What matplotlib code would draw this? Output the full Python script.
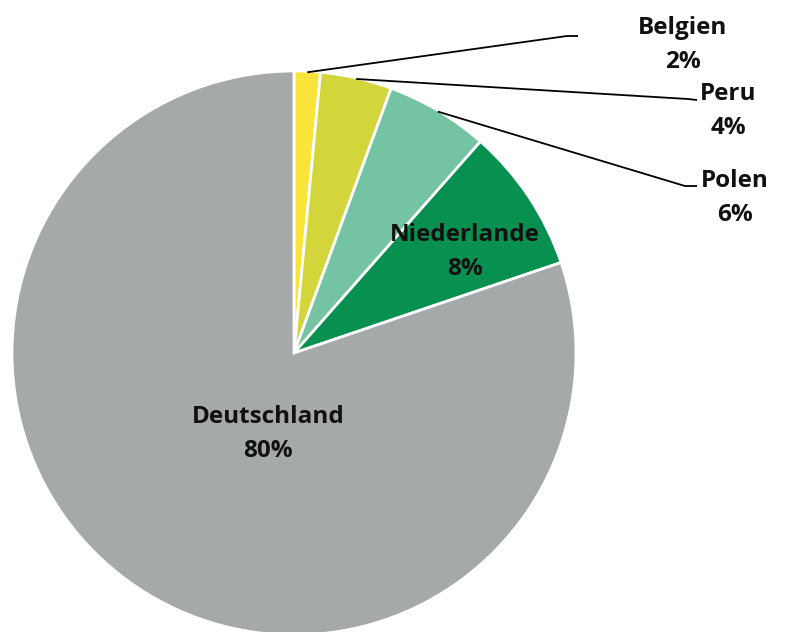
import numpy as np
from matplotlib import pyplot as plt

countries = ["Belgien", "Peru", "Polen", "Niederlande", "Deutschland"]
shares = [1.5, 4.1, 5.9, 8.3, 80.2]
labels = ["2%", "4%", "6%", "8%", "80%"]
colors = ["#fbe43a", "#d2d63a", "#74c3a3", "#07904f", "#a5a9aa"]

plt.rcParams['font.family'] = ['Open Sans', 'DejaVu Sans']

W, H = 787, 632
fig = plt.figure(figsize=(W / 100, H / 100), dpi=100)
ax = fig.add_axes([0, 0, 1, 1])

cx, cy, r = 294, H - 353, 282
wedges, _ = ax.pie(shares, colors=colors, startangle=90, counterclock=False,
                   center=(cx, cy), radius=r, frame=True,
                   wedgeprops=dict(edgecolor='white', linewidth=2))
ax.set_xlim(0, W)
ax.set_ylim(0, H)
ax.set_aspect('equal')
ax.axis('off')

fs = 17.5
ls = 1.6

# inside labels
inside = {"Niederlande": (465, 252), "Deutschland": (268, 434)}
for name, lab in zip(countries, labels):
    if name in inside:
        x, y = inside[name]
        ax.text(x, H - y, name + "\n" + lab, ha='center', va='center',
                fontsize=fs, fontweight='bold', linespacing=ls, color='#111111')

# outside labels with leader lines
outside = {
    "Belgien": ((567, 36), (578, 36), (683, 45)),
    "Peru": ((688, 99), (697, 100), (728, 111)),
    "Polen": ((685, 186), (697, 186), (735, 198)),
}
for w, name, lab in zip(wedges, countries, labels):
    if name not in outside:
        continue
    elbow, end, txt = outside[name]
    ang = np.deg2rad((w.theta1 + w.theta2) / 2)
    sx, sy = cx + (r - 1) * np.cos(ang), cy + (r - 1) * np.sin(ang)
    ax.plot([sx, elbow[0], end[0]], [sy, H - elbow[1], H - end[1]],
            color='black', lw=1.3, solid_capstyle='butt')
    ax.text(txt[0], H - txt[1], name + "\n" + lab, ha='center', va='center',
            fontsize=fs, fontweight='bold', linespacing=ls, color='#111111')

fig.savefig("out.png", dpi=100)
